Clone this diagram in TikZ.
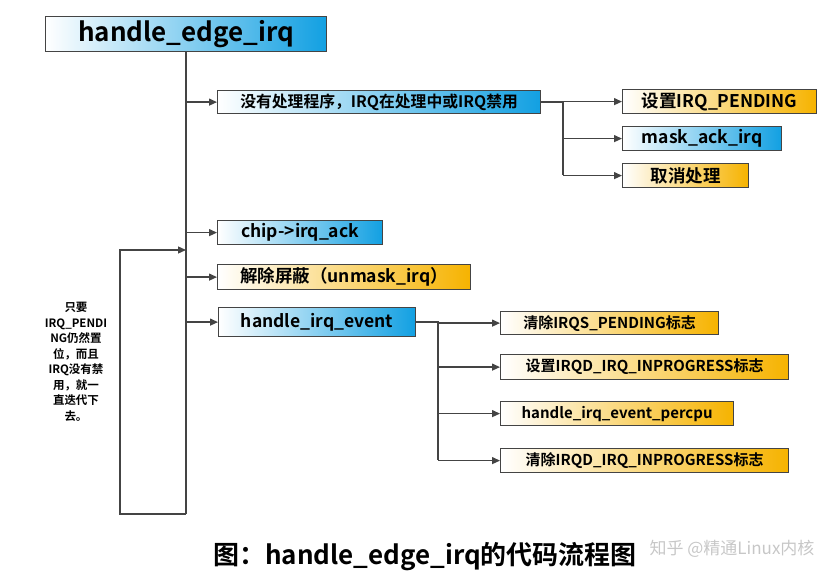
\documentclass[tikz,border=0pt]{standalone}
\usepackage{fontspec}
\setmainfont{Noto Sans CJK SC}[BoldFont={Noto Sans CJK SC Bold}]
\usetikzlibrary{arrows.meta}
\definecolor{bl}{HTML}{12A0E2}
\definecolor{og}{HTML}{F6B300}
\definecolor{ln}{HTML}{444444}
\tikzset{
 bx/.style={draw=ln,line width=1.2pt,inner sep=0pt,font=\bfseries\fontsize{17.5}{19}\selectfont,text=black},
 bbox/.style={bx,left color=white,right color=bl},
 obox/.style={bx,left color=white,right color=og},
 ar/.style={draw=ln,line width=1.3pt,-{Triangle[length=8pt,width=7pt]}},
 ln/.style={draw=ln,line width=1.3pt},
}
\begin{document}
\begin{tikzpicture}[x=1pt,y=-1pt]
\useasboundingbox (0,0) rectangle (835,586);
\node[bbox,minimum width=281,minimum height=35,anchor=north west,font=\bfseries\fontsize{26}{28}\selectfont] (t) at (45,16) {handle\_edge\_irq};
\node[bbox,minimum width=323,minimum height=23,anchor=north west,font=\bfseries\fontsize{15.8}{17}\selectfont] (b1) at (217,90) {没有处理程序，IRQ在处理中或IRQ禁用};
\node[obox,minimum width=194,minimum height=24,anchor=north west] (b1a) at (622,89) {设置IRQ\_PENDING};
\node[bbox,minimum width=159,minimum height=24,anchor=north west] (b1b) at (622,126) {mask\_ack\_irq};
\node[obox,minimum width=126,minimum height=24,anchor=north west] (b1c) at (622,163) {取消处理};
\node[bbox,minimum width=165,minimum height=24,anchor=north west] (b2) at (217,220) {chip->irq\_ack};
\node[obox,minimum width=253,minimum height=25,anchor=north west] (b3) at (217,264) {解除屏蔽（unmask\_irq）};
\node[bbox,minimum width=197,minimum height=29,anchor=north west] (b4) at (218,307) {handle\_irq\_event};
\tikzset{sm/.style={font=\bfseries\fontsize{15}{16}\selectfont}}
\node[obox,sm,minimum width=218,minimum height=23,anchor=north west] (c1) at (500,311) {清除IRQS\_PENDING标志};
\node[obox,sm,minimum width=288,minimum height=25,anchor=north west] (c2) at (500,354) {设置IRQD\_IRQ\_INPROGRESS标志};
\node[obox,sm,minimum width=233,minimum height=24,anchor=north west] (c3) at (500,401) {handle\_irq\_event\_percpu};
\node[obox,sm,minimum width=288,minimum height=24,anchor=north west] (c4) at (500,448) {清除IRQD\_IRQ\_INPROGRESS标志};
% main spine
\coordinate (mb) at (186,514);
\draw[ln] (t.south -| mb) -- (mb);
\draw[ar] (b1.west -| mb) -- (b1.west);
\draw[ar] (b2.west -| mb) -- (b2.west);
\draw[ar] (b3.west -| mb) -- (b3.west);
\draw[ar] (b4.west -| mb) -- (b4.west);
\coordinate (lp) at (186,250);
\draw[ar] (mb) -- (120,514) -- (120,250) -- (lp);
% b1 branches
\coordinate (s1) at (563,101);
\draw[ln] (b1.east) -- (b1.east -| s1) -- (563,175);
\draw[ar] (b1a.west -| s1) -- (b1a.west);
\draw[ar] (b1b.west -| s1) -- (b1b.west);
\draw[ar] (b1c.west -| s1) -- (b1c.west);
% b4 branches
\coordinate (s4) at (438,321);
\draw[ln] (b4.east) -- (b4.east -| s4) -- (438,460);
\draw[ar] (c1.west -| s4) -- (c1.west);
\draw[ar] (c2.west -| s4) -- (c2.west);
\draw[ar] (c3.west -| s4) -- (c3.west);
\draw[ar] (c4.west -| s4) -- (c4.west);
\node[align=center,font=\bfseries\fontsize{11.5}{15.5}\selectfont,text width=70pt,inner sep=0pt] (note) at (76,362) {只要\\IRQ\_PENDI\\NG仍然置\\位，而且\\IRQ没有禁\\用，就一\\直迭代下\\去。};
\node[font=\bfseries\fontsize{26}{28}\selectfont] (cap) at (425,557) {图：handle\_edge\_irq的代码流程图};
\node[font=\fontsize{17}{19}\selectfont,text=black!22,anchor=east] (wm) at (818,549) {知乎 @精通Linux内核};
\end{tikzpicture}
\end{document}
